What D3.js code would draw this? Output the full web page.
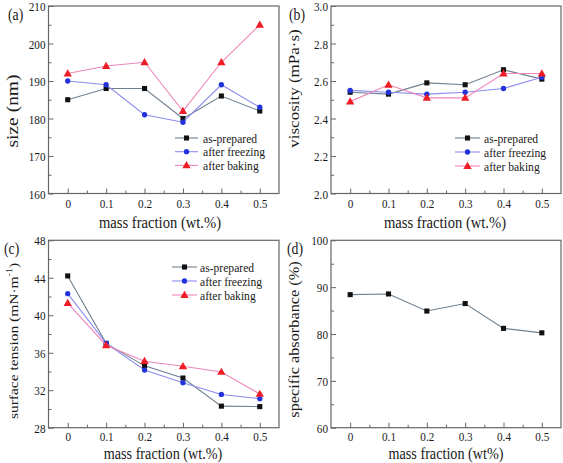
<!DOCTYPE html>
<html><head><meta charset="utf-8">
<script src="https://cdn.jsdelivr.net/npm/d3@7"></script>
<style>
html,body{margin:0;padding:0;background:#fff;}
svg text{font-family:"Liberation Serif","Times New Roman",serif !important;fill:#1a1a1a;}
</style></head>
<body><svg id="c" width="563" height="463"></svg>
<script>
// ---------- data ----------
const massFraction = [0, 0.1, 0.2, 0.3, 0.4, 0.5];
const xTicks = [0, 0.1, 0.2, 0.3, 0.4, 0.5];
const xTickLabels = ["0", "0.1", "0.2", "0.3", "0.4", "0.5"];
const seriesNames = ["as-prepared", "after freezing", "after baking"];

const sizeAsPrepared = [185, 188, 188, 180, 186, 182];
const sizeFreezing   = [190, 189, 181, 179, 189, 183];
const sizeBaking     = [192, 194, 195, 182, 195, 205];
const sizeTicks = [160, 170, 180, 190, 200, 210];

const viscAsPrepared = [2.54, 2.53, 2.59, 2.58, 2.66, 2.61];
const viscFreezing   = [2.55, 2.54, 2.53, 2.54, 2.56, 2.62];
const viscBaking     = [2.49, 2.58, 2.51, 2.51, 2.64, 2.64];
const viscTicks = [2.0, 2.2, 2.4, 2.6, 2.8, 3.0];

const tensionAsPrepared = [44.2, 37.0, 34.6, 33.3, 30.3, 30.25];
const tensionFreezing   = [42.3, 37.0, 34.15, 32.8, 31.55, 31.1];
const tensionBaking     = [41.3, 36.8, 35.1, 34.55, 33.95, 31.6];
const tensionTicks = [28, 32, 36, 40, 44, 48];

const absorbance = [88.4, 88.55, 84.9, 86.5, 81.2, 80.25];
const absorbTicks = [60, 70, 80, 90, 100];

// ---------- styles ----------
const lineColors = ["#6f8090", "#8c8cf0", "#ee86bc"];
const markColors = ["#111111", "#2233dd", "#ee1c24"];
const markTypes = [d3.symbolSquare, d3.symbolCircle, d3.symbolTriangle];
const markSizes = [26, 22, 30];
const SQ = 0.86; // horizontal text compression
const axisColor = "#666";
const FONT = '"Liberation Serif","Times New Roman",serif';

const svg = d3.select("#c");

function txt(g, x, y, s, size, anchor, rot) {
  const t = g.append("text")
    .attr("transform", rot ? `translate(${x},${y}) rotate(-90) scale(1,${SQ})` : `translate(${x},${y}) scale(${SQ},1)`)
    .attr("text-anchor", anchor || "start")
    .style("font-family", FONT)
    .style("font-size", size + "px");
  return t;
}

function panel(cfg) {
  const {L, R, T, B} = cfg;
  const g = svg.append("g");
  const x = d3.scaleLinear().domain([-0.05, 0.55]).range([L, R]);
  const y = d3.scaleLinear().domain(cfg.yDomain).range([B, T]);

  const xMinor = xTicks.slice(0, -1).map(v => v + 0.05);
  const yMinor = cfg.yTicks.slice(0, -1).map((v, i) => (v + cfg.yTicks[i + 1]) / 2);
  const gxm = g.append("g").attr("transform", `translate(0,${B})`)
    .call(d3.axisBottom(x).tickValues(xMinor).tickSize(-3).tickFormat(""));
  const gym = g.append("g").attr("transform", `translate(${L},0)`)
    .call(d3.axisLeft(y).tickValues(yMinor).tickSize(-3).tickFormat(""));
  const gx = g.append("g").attr("transform", `translate(0,${B})`)
    .call(d3.axisBottom(x).tickValues(xTicks).tickSize(-5).tickFormat((d, i) => xTickLabels[i]));
  const gy = g.append("g").attr("transform", `translate(${L},0)`)
    .call(d3.axisLeft(y).tickValues(cfg.yTicks).tickSize(-5).tickFormat(cfg.fmt));
  [gxm, gym, gx, gy].forEach(a => {
    a.select(".domain").remove();
    a.selectAll("line").attr("stroke", axisColor).attr("stroke-width", 1);
    a.attr("font-family", FONT).attr("font-size", null);
  });
  gx.selectAll("text").each(function () {
    d3.select(this).attr("y", null).attr("dy", null)
      .attr("transform", `translate(0,${cfg.tky}) scale(${SQ},1)`)
      .style("font-family", FONT).style("font-size", "13px").style("fill", "#1a1a1a");
  });
  gy.selectAll("text").each(function () {
    d3.select(this).attr("x", null).attr("dy", null)
      .attr("transform", `translate(-3,4.5) scale(${SQ},1)`)
      .style("font-family", FONT).style("font-size", "13px").style("fill", "#1a1a1a");
  });

  g.append("rect").attr("x", L).attr("y", T).attr("width", R - L).attr("height", B - T)
    .attr("fill", "none").attr("stroke", axisColor).attr("stroke-width", 1.2);

  cfg.series.forEach((vals, si) => {
    const pts = massFraction.map((m, i) => [x(m), y(vals[i])]);
    g.append("path").attr("d", d3.line()(pts)).attr("fill", "none")
      .attr("stroke", lineColors[si]).attr("stroke-width", 1.1);
    g.selectAll(null).data(pts).enter().append("path")
      .attr("transform", d => `translate(${d[0]},${d[1] + (markTypes[si] === d3.symbolTriangle ? 0.5 : 0)})`)
      .attr("d", d3.symbol().type(markTypes[si]).size(markSizes[si]))
      .attr("fill", markColors[si]);
  });

  if (cfg.legend) {
    const lg = cfg.legend;
    cfg.series.forEach((vals, si) => {
      const yy = lg.y + si * lg.dy;
      g.append("line").attr("x1", lg.x1).attr("x2", lg.x2).attr("y1", yy).attr("y2", yy)
        .attr("stroke", lineColors[si]).attr("stroke-width", 1.1);
      g.append("path").attr("transform", `translate(${(lg.x1 + lg.x2) / 2},${yy + (si === 2 ? 0.5 : 0)})`)
        .attr("d", d3.symbol().type(markTypes[si]).size(markSizes[si])).attr("fill", markColors[si]);
      txt(g, lg.tx, yy + 4.5, 0, 13.5).text(seriesNames[si]);
    });
  }

  txt(g, cfg.xtx, B + cfg.xty, 0, cfg.xfs, "middle").text(cfg.xTitle);
  const yt = txt(g, cfg.ytx, cfg.yty, 0, cfg.yfs, "middle", true);
  if (cfg.yTitleParts) {
    cfg.yTitleParts.forEach(p => {
      const s = yt.append("tspan").text(p.t);
      if (p.dy) s.attr("dy", p.dy);
      if (p.sup) s.style("font-size", "10px");
    });
  } else yt.text(cfg.yTitle);
  txt(g, cfg.lx, cfg.ly, 0, 16).text(cfg.label);
}

panel({L: 48.5, R: 279, T: 6, B: 193.5, yDomain: [160, 210], yTicks: sizeTicks, fmt: d3.format("d"),
  series: [sizeAsPrepared, sizeFreezing, sizeBaking], tky: 14.5,
  legend: {x1: 175, x2: 198, tx: 203, y: 138, dy: 13.7},
  xTitle: "mass fraction (wt.%)", xtx: 160, xty: 34, xfs: 17,
  yTitle: "size (nm)", ytx: 18, yty: 111, yfs: 19.5, label: "(a)", lx: 8, ly: 20});

panel({L: 331, R: 561, T: 6, B: 193.5, yDomain: [2.0, 3.0], yTicks: viscTicks, fmt: d3.format(".1f"),
  series: [viscAsPrepared, viscFreezing, viscBaking], tky: 14.5,
  legend: {x1: 455, x2: 480, tx: 484, y: 138, dy: 14},
  xTitle: "mass fraction (wt.%)", xtx: 445, xty: 34, xfs: 17,
  yTitle: "viscosity (mPa·s)", ytx: 299, yty: 88.5, yfs: 17, label: "(b)", lx: 289, ly: 20});

panel({L: 48.5, R: 279, T: 240.3, B: 427.7, yDomain: [28, 48], yTicks: tensionTicks, fmt: d3.format("d"),
  series: [tensionAsPrepared, tensionFreezing, tensionBaking], tky: 13.5,
  legend: {x1: 172, x2: 197, tx: 200, y: 267, dy: 14},
  xTitle: "mass fraction (wt.%)", xtx: 163, xty: 31, xfs: 16.5,
  ytx: 17.5, yty: 341, yfs: 15.5,
  yTitleParts: [{t: "surface tension (mN·m"}, {t: "-1", sup: true, dy: -6}, {t: ")", dy: 6}],
  label: "(c)", lx: 4, ly: 254});

panel({L: 331, R: 561, T: 240.3, B: 427.7, yDomain: [60, 100], yTicks: absorbTicks, fmt: d3.format("d"),
  series: [absorbance], tky: 13.5,
  xTitle: "mass fraction (wt%)", xtx: 446, xty: 31, xfs: 16.5,
  yTitle: "specific absorbance (%)", ytx: 298.5, yty: 339.5, yfs: 16.3, label: "(d)", lx: 287, ly: 254});
</script></body></html>
